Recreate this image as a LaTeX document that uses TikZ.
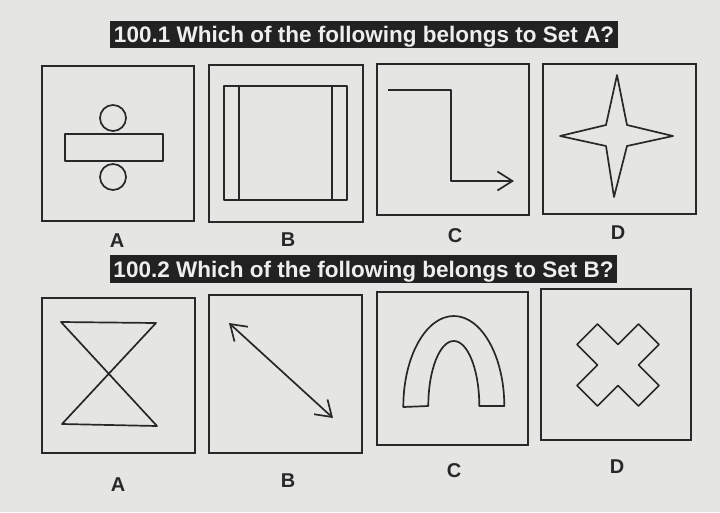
\documentclass[tikz,border=0pt]{standalone}
\usepackage{fontspec}
\setmainfont{Liberation Sans}
\usetikzlibrary{arrows.meta}
\definecolor{paper}{RGB}{229,229,227}
\definecolor{ink}{RGB}{40,40,40}
\definecolor{bar}{RGB}{34,34,34}
\definecolor{bartext}{RGB}{238,238,238}
\begin{document}
\begin{tikzpicture}[x=1pt,y=-1pt,
  fig/.style={draw=ink,line width=1.7pt,line join=round},
  panel/.style={draw=ink,line width=1.7pt,inner sep=0pt},
  lbl/.style={font=\fontsize{20}{20}\selectfont\bfseries,text=ink,inner sep=0pt},
  ttl/.style={font=\fontsize{22.5}{22.5}\selectfont\bfseries,text=bartext,inner sep=0pt,anchor=base},
  barb/.style={-{Straight Barb[length=15pt,width=19pt,line width=1.7pt]}},
  dbarb/.style={{Straight Barb[length=15pt,width=20pt,line width=1.7pt]}-{Straight Barb[length=15pt,width=20pt,line width=1.7pt]}},
]
\fill[paper] (0,0) rectangle (720,512);
\useasboundingbox (0,0) rectangle (720,512);

% titles
\fill[bar] (110,21) rectangle (618,48);
\node[ttl] (t1) at (364,42.5) {100.1 Which of the following belongs to Set A?};
\fill[bar] (110,255) rectangle (617,283);
\node[ttl] (t2) at (363.5,277) {100.2 Which of the following belongs to Set B?};

% row 1 panels
\node[panel,minimum width=152pt,minimum height=155pt] (p1a) at (118,143.5) {};
\node[panel,minimum width=154pt,minimum height=157pt] (p1b) at (286,143.5) {};
\node[panel,minimum width=152pt,minimum height=151pt] (p1c) at (453,139.5) {};
\node[panel,minimum width=153pt,minimum height=150pt] (p1d) at (619.5,139) {};

% row 2 panels
\node[panel,minimum width=153pt,minimum height=155pt] (p2a) at (118.5,375.5) {};
\node[panel,minimum width=153pt,minimum height=158pt] (p2b) at (285.5,374) {};
\node[panel,minimum width=151pt,minimum height=153pt] (p2c) at (452.5,368.5) {};
\node[panel,minimum width=150pt,minimum height=151pt] (p2d) at (616,364.5) {};

% labels
\node[lbl] (l1a) at (117,241) {A};
\node[lbl] (l1b) at (288,240) {B};
\node[lbl] (l1c) at (455,236) {C};
\node[lbl] (l1d) at (618,233) {D};
\node[lbl] (l2a) at (118,485) {A};
\node[lbl] (l2b) at (288,481) {B};
\node[lbl] (l2c) at (454,471) {C};
\node[lbl] (l2d) at (617,467) {D};

% 1A: division sign
\draw[fig] (113,118) circle[radius=13pt];
\draw[fig] (113,177) circle[radius=13pt];
\draw[fig] (65,134) rectangle (163,161);

% 1B: square with two bars
\draw[fig] (224,86) rectangle (347,200);
\draw[fig] (239,86) -- (239,200);
\draw[fig] (332,86) -- (332,200);

% 1C: bent arrow
\coordinate (c1s) at (388,90);
\coordinate (c1e) at (514,181);
\draw[fig,barb] (c1s) -- (451,90) -- (451,181) -- (c1e);

% 1D: four-pointed star
\draw[fig] (617,75) -- (627,125) -- (673,136) -- (627,146) -- (614,197)
  -- (606,146) -- (560,136) -- (606,125) -- cycle;

% 2A: hourglass
\draw[fig] (61,322) -- (156,323) -- (62,424) -- (157,426) -- cycle;

% 2B: double arrow
\coordinate (b2s) at (229,323);
\coordinate (b2e) at (333,418);
\draw[fig,dbarb] (b2s) -- (b2e);

% 2C: arch
\draw[fig] (403.3,407)
  .. controls (403.3,356.7) and (425.9,316) .. (453.8,316)
  .. controls (481.7,316) and (504.3,356.7) .. (504.3,406)
  -- (479.3,406)
  .. controls (479.3,370.1) and (467.9,341) .. (453.8,341)
  .. controls (439.7,341) and (428.3,370.1) .. (428.3,406)
  -- cycle;

% 2D: X cross
\begin{scope}[shift={(618,365)}]
\draw[fig] (-20.5,-41) -- (0,-20.5) -- (20.5,-41) -- (41,-20.5) -- (20.5,0)
  -- (41,20.5) -- (20.5,41) -- (0,20.5) -- (-20.5,41) -- (-41,20.5)
  -- (-20.5,0) -- (-41,-20.5) -- cycle;
\end{scope}
\end{tikzpicture}
\end{document}
